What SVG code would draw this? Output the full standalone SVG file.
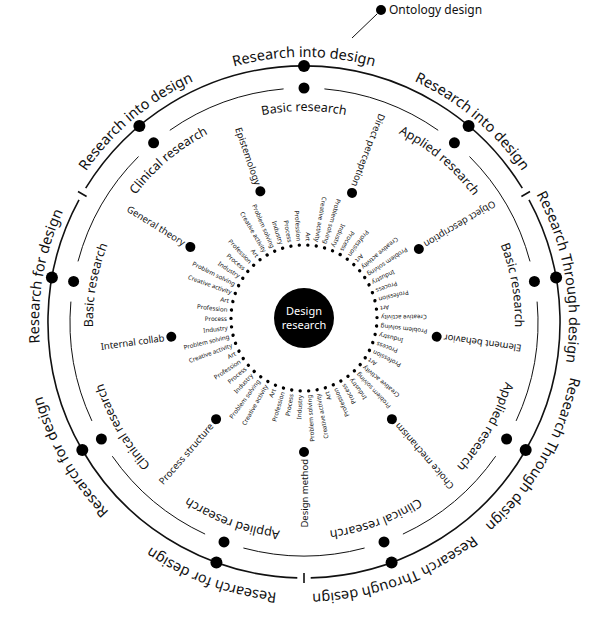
<svg xmlns="http://www.w3.org/2000/svg" width="600" height="644" viewBox="0 0 600 644">
<style>
text{font-family:"Noto Sans","Open Sans","Liberation Sans",sans-serif;fill:#111}
.ring{fill:none;stroke:#111}
.o{font-size:14.5px}
.i{font-size:12.5px}
.sl text{font-size:6.2px;text-anchor:end;dominant-baseline:central}
.ml text{font-size:9.5px;text-anchor:end;dominant-baseline:central}
</style>
<defs>
<path id="pOT" d="M304,587 A265,265 0 1 1 304,57 A265,265 0 1 1 304,587"/>
<path id="pOB" d="M304,50 A272,272 0 1 1 304,594 A272,272 0 1 1 304,50"/>
<path id="pIT" d="M304,533 A211,211 0 1 1 304,111 A211,211 0 1 1 304,533"/>
<path id="pIB" d="M304,112 A210,210 0 1 1 304,532 A210,210 0 1 1 304,112"/>
</defs>
<rect width="600" height="644" fill="#fff"/>
<g id="connectors">
<g class="ring" stroke-width="1.6">
<path d="M522.3,188.2 A256,256 0 0 0 85.7,188.2"/>
<path d="M79.0,199.8 A256,256 0 0 0 297.3,577.9"/>
<path d="M310.7,577.9 A256,256 0 0 0 529.0,199.8"/>
<path d="M521.4,196.5 L530.0,191.5 M86.6,196.5 L78.0,191.5 M304,573 L304,583"/>
</g>
<g class="ring" stroke-width="1">
<path d="M530.0,261.4 A234,234 0 0 0 469.5,156.5"/>
<path d="M438.2,130.3 A234,234 0 0 0 324.4,88.9"/>
<path d="M283.6,88.9 A234,234 0 0 0 169.8,130.3"/>
<path d="M138.5,156.5 A234,234 0 0 0 78.0,261.4"/>
<path d="M70.9,301.6 A234,234 0 0 0 91.9,420.9"/>
<path d="M112.3,456.2 A234,234 0 0 0 205.1,534.1"/>
<path d="M243.4,548.0 A234,234 0 0 0 364.6,548.0"/>
<path d="M402.9,534.1 A234,234 0 0 0 495.7,456.2"/>
<path d="M516.1,420.9 A234,234 0 0 0 537.1,301.6"/>
</g>
<line x1="352" y1="38" x2="377" y2="14" stroke="#111" stroke-width="1"/>
</g>
<g id="center"><circle cx="304" cy="318" r="30" fill="#000"/>
<text x="304" y="315" text-anchor="middle" font-size="11" style="fill:#fff">Design</text>
<text x="304" y="329" text-anchor="middle" font-size="11" style="fill:#fff">research</text></g>
<g id="ontology"><circle cx="381" cy="10" r="5"/><text x="389" y="14" font-size="12">Ontology design</text></g>
<g id="outer-nodes">
<circle cx="304" cy="66" r="6"/><circle cx="468.6" cy="125.9" r="6"/><circle cx="139.4" cy="125.9" r="6"/>
<circle cx="556.1" cy="277.6" r="6"/><circle cx="51.9" cy="277.6" r="6"/><circle cx="525.7" cy="450" r="6"/>
<circle cx="82.3" cy="450" r="6"/><circle cx="391.6" cy="562.6" r="6"/><circle cx="216.4" cy="562.6" r="6"/>
<text class="o" text-anchor="middle"><textPath href="#pOT" startOffset="50%">Research into design</textPath></text>
<text class="o" text-anchor="middle"><textPath href="#pOT" startOffset="38.89%">Research into design</textPath></text>
<text class="o" text-anchor="middle"><textPath href="#pOT" startOffset="61.11%">Research into design</textPath></text>
<text class="o" text-anchor="middle"><textPath href="#pOT" startOffset="27.78%">Research for design</textPath></text>
<text class="o" text-anchor="middle"><textPath href="#pOT" startOffset="72.22%">Research Through design</textPath></text>
<text class="o" text-anchor="middle"><textPath href="#pOB" startOffset="33.33%">Research Through design</textPath></text>
<text class="o" text-anchor="middle"><textPath href="#pOB" startOffset="44.44%">Research Through design</textPath></text>
<text class="o" text-anchor="middle"><textPath href="#pOB" startOffset="55.56%">Research for design</textPath></text>
<text class="o" text-anchor="middle"><textPath href="#pOB" startOffset="66.67%">Research for design</textPath></text>
</g>
<g id="inner-nodes">
<circle cx="304" cy="88" r="5.5"/><circle cx="454.4" cy="142.8" r="5.5"/><circle cx="153.6" cy="142.8" r="5.5"/>
<circle cx="534.4" cy="281.4" r="5.5"/><circle cx="73.6" cy="281.4" r="5.5"/><circle cx="506.6" cy="439" r="5.5"/>
<circle cx="101.4" cy="439" r="5.5"/><circle cx="384" cy="541.9" r="5.5"/><circle cx="224" cy="541.9" r="5.5"/>
<text class="i" text-anchor="middle"><textPath href="#pIT" startOffset="50%">Basic research</textPath></text>
<text class="i" text-anchor="middle"><textPath href="#pIT" startOffset="38.89%">Clinical research</textPath></text>
<text class="i" text-anchor="middle"><textPath href="#pIT" startOffset="61.11%">Applied research</textPath></text>
<text class="i" text-anchor="middle"><textPath href="#pIT" startOffset="27.78%">Basic research</textPath></text>
<text class="i" text-anchor="middle"><textPath href="#pIT" startOffset="72.22%">Basic research</textPath></text>
<text class="i" text-anchor="middle"><textPath href="#pIB" startOffset="33.33%">Applied research</textPath></text>
<text class="i" text-anchor="middle"><textPath href="#pIB" startOffset="44.44%">Clinical research</textPath></text>
<text class="i" text-anchor="middle"><textPath href="#pIB" startOffset="55.56%">Applied research</textPath></text>
<text class="i" text-anchor="middle"><textPath href="#pIB" startOffset="66.67%">Clinical research</textPath></text>
</g>
<g id="mid-nodes" class="ml">
<g transform="rotate(-109 304 318)"><circle cx="438" cy="318" r="5"/><text transform="translate(445 318) rotate(180)">Epistemology</text></g>
<g transform="rotate(-69 304 318)"><circle cx="438" cy="318" r="5"/><text transform="translate(445 318) rotate(180)">Direct perception</text></g>
<g transform="rotate(-148 304 318)"><circle cx="438" cy="318" r="5"/><text transform="translate(445 318) rotate(180)">General theory</text></g>
<g transform="rotate(-31 304 318)"><circle cx="438" cy="318" r="5"/><text transform="translate(445 318) rotate(180)">Object description</text></g>
<g transform="rotate(-188 304 318)"><circle cx="438" cy="318" r="5"/><text transform="translate(445 318) rotate(180)">Internal collab</text></g>
<g transform="rotate(8 304 318)"><circle cx="438" cy="318" r="5"/><text transform="translate(445 318) rotate(180)">Element behavior</text></g>
<g transform="rotate(-229 304 318)"><circle cx="438" cy="318" r="5"/><text transform="translate(445 318) rotate(180)">Process structure</text></g>
<g transform="rotate(49 304 318)"><circle cx="438" cy="318" r="5"/><text transform="translate(445 318) rotate(180)">Choice mechanism</text></g>
<g transform="rotate(90 304 318)"><circle cx="438" cy="318" r="5"/><text transform="translate(445 318) rotate(180)">Design method</text></g>
</g>
<g id="small-nodes" class="sl">
<g transform="rotate(-87 304 318)"><circle cx="377" cy="318" r="1.7"/><text transform="translate(381 318) rotate(180)">Art</text></g>
<g transform="rotate(-80.33 304 318)"><circle cx="377" cy="318" r="1.7"/><text transform="translate(381 318) rotate(180)">Creative activity</text></g>
<g transform="rotate(-73.67 304 318)"><circle cx="377" cy="318" r="1.7"/><text transform="translate(381 318) rotate(180)">Problem solving</text></g>
<g transform="rotate(-67 304 318)"><circle cx="377" cy="318" r="1.7"/><text transform="translate(381 318) rotate(180)">Industry</text></g>
<g transform="rotate(-60.33 304 318)"><circle cx="377" cy="318" r="1.7"/><text transform="translate(381 318) rotate(180)">Process</text></g>
<g transform="rotate(-53.67 304 318)"><circle cx="377" cy="318" r="1.7"/><text transform="translate(381 318) rotate(180)">Profession</text></g>
<g transform="rotate(-47 304 318)"><circle cx="377" cy="318" r="1.7"/><text transform="translate(381 318) rotate(180)">Art</text></g>
<g transform="rotate(-40.33 304 318)"><circle cx="377" cy="318" r="1.7"/><text transform="translate(381 318) rotate(180)">Creative activity</text></g>
<g transform="rotate(-33.67 304 318)"><circle cx="377" cy="318" r="1.7"/><text transform="translate(381 318) rotate(180)">Problem solving</text></g>
<g transform="rotate(-27 304 318)"><circle cx="377" cy="318" r="1.7"/><text transform="translate(381 318) rotate(180)">Industry</text></g>
<g transform="rotate(-20.33 304 318)"><circle cx="377" cy="318" r="1.7"/><text transform="translate(381 318) rotate(180)">Process</text></g>
<g transform="rotate(-13.67 304 318)"><circle cx="377" cy="318" r="1.7"/><text transform="translate(381 318) rotate(180)">Profession</text></g>
<g transform="rotate(-7 304 318)"><circle cx="377" cy="318" r="1.7"/><text transform="translate(381 318) rotate(180)">Art</text></g>
<g transform="rotate(-0.33 304 318)"><circle cx="377" cy="318" r="1.7"/><text transform="translate(381 318) rotate(180)">Creative activity</text></g>
<g transform="rotate(6.33 304 318)"><circle cx="377" cy="318" r="1.7"/><text transform="translate(381 318) rotate(180)">Problem solving</text></g>
<g transform="rotate(13 304 318)"><circle cx="377" cy="318" r="1.7"/><text transform="translate(381 318) rotate(180)">Industry</text></g>
<g transform="rotate(19.67 304 318)"><circle cx="377" cy="318" r="1.7"/><text transform="translate(381 318) rotate(180)">Process</text></g>
<g transform="rotate(26.33 304 318)"><circle cx="377" cy="318" r="1.7"/><text transform="translate(381 318) rotate(180)">Profession</text></g>
<g transform="rotate(33 304 318)"><circle cx="377" cy="318" r="1.7"/><text transform="translate(381 318) rotate(180)">Art</text></g>
<g transform="rotate(39.67 304 318)"><circle cx="377" cy="318" r="1.7"/><text transform="translate(381 318) rotate(180)">Creative activity</text></g>
<g transform="rotate(46.33 304 318)"><circle cx="377" cy="318" r="1.7"/><text transform="translate(381 318) rotate(180)">Problem solving</text></g>
<g transform="rotate(53 304 318)"><circle cx="377" cy="318" r="1.7"/><text transform="translate(381 318) rotate(180)">Industry</text></g>
<g transform="rotate(59.67 304 318)"><circle cx="377" cy="318" r="1.7"/><text transform="translate(381 318) rotate(180)">Process</text></g>
<g transform="rotate(66.33 304 318)"><circle cx="377" cy="318" r="1.7"/><text transform="translate(381 318) rotate(180)">Profession</text></g>
<g transform="rotate(73 304 318)"><circle cx="377" cy="318" r="1.7"/><text transform="translate(381 318) rotate(180)">Art</text></g>
<g transform="rotate(79.67 304 318)"><circle cx="377" cy="318" r="1.7"/><text transform="translate(381 318) rotate(180)">Creative activity</text></g>
<g transform="rotate(86.33 304 318)"><circle cx="377" cy="318" r="1.7"/><text transform="translate(381 318) rotate(180)">Problem solving</text></g>
<g transform="rotate(93 304 318)"><circle cx="377" cy="318" r="1.7"/><text transform="translate(381 318) rotate(180)">Industry</text></g>
<g transform="rotate(99.67 304 318)"><circle cx="377" cy="318" r="1.7"/><text transform="translate(381 318) rotate(180)">Process</text></g>
<g transform="rotate(106.33 304 318)"><circle cx="377" cy="318" r="1.7"/><text transform="translate(381 318) rotate(180)">Profession</text></g>
<g transform="rotate(113 304 318)"><circle cx="377" cy="318" r="1.7"/><text transform="translate(381 318) rotate(180)">Art</text></g>
<g transform="rotate(119.67 304 318)"><circle cx="377" cy="318" r="1.7"/><text transform="translate(381 318) rotate(180)">Creative activity</text></g>
<g transform="rotate(126.33 304 318)"><circle cx="377" cy="318" r="1.7"/><text transform="translate(381 318) rotate(180)">Problem solving</text></g>
<g transform="rotate(133 304 318)"><circle cx="377" cy="318" r="1.7"/><text transform="translate(381 318) rotate(180)">Industry</text></g>
<g transform="rotate(139.67 304 318)"><circle cx="377" cy="318" r="1.7"/><text transform="translate(381 318) rotate(180)">Process</text></g>
<g transform="rotate(146.33 304 318)"><circle cx="377" cy="318" r="1.7"/><text transform="translate(381 318) rotate(180)">Profession</text></g>
<g transform="rotate(153 304 318)"><circle cx="377" cy="318" r="1.7"/><text transform="translate(381 318) rotate(180)">Art</text></g>
<g transform="rotate(159.67 304 318)"><circle cx="377" cy="318" r="1.7"/><text transform="translate(381 318) rotate(180)">Creative activity</text></g>
<g transform="rotate(166.33 304 318)"><circle cx="377" cy="318" r="1.7"/><text transform="translate(381 318) rotate(180)">Problem solving</text></g>
<g transform="rotate(173 304 318)"><circle cx="377" cy="318" r="1.7"/><text transform="translate(381 318) rotate(180)">Industry</text></g>
<g transform="rotate(179.67 304 318)"><circle cx="377" cy="318" r="1.7"/><text transform="translate(381 318) rotate(180)">Process</text></g>
<g transform="rotate(186.33 304 318)"><circle cx="377" cy="318" r="1.7"/><text transform="translate(381 318) rotate(180)">Profession</text></g>
<g transform="rotate(193 304 318)"><circle cx="377" cy="318" r="1.7"/><text transform="translate(381 318) rotate(180)">Art</text></g>
<g transform="rotate(199.67 304 318)"><circle cx="377" cy="318" r="1.7"/><text transform="translate(381 318) rotate(180)">Creative activity</text></g>
<g transform="rotate(206.33 304 318)"><circle cx="377" cy="318" r="1.7"/><text transform="translate(381 318) rotate(180)">Problem solving</text></g>
<g transform="rotate(213 304 318)"><circle cx="377" cy="318" r="1.7"/><text transform="translate(381 318) rotate(180)">Industry</text></g>
<g transform="rotate(219.67 304 318)"><circle cx="377" cy="318" r="1.7"/><text transform="translate(381 318) rotate(180)">Process</text></g>
<g transform="rotate(226.33 304 318)"><circle cx="377" cy="318" r="1.7"/><text transform="translate(381 318) rotate(180)">Profession</text></g>
<g transform="rotate(233 304 318)"><circle cx="377" cy="318" r="1.7"/><text transform="translate(381 318) rotate(180)">Art</text></g>
<g transform="rotate(239.67 304 318)"><circle cx="377" cy="318" r="1.7"/><text transform="translate(381 318) rotate(180)">Creative activity</text></g>
<g transform="rotate(246.33 304 318)"><circle cx="377" cy="318" r="1.7"/><text transform="translate(381 318) rotate(180)">Problem solving</text></g>
<g transform="rotate(253 304 318)"><circle cx="377" cy="318" r="1.7"/><text transform="translate(381 318) rotate(180)">Industry</text></g>
<g transform="rotate(259.67 304 318)"><circle cx="377" cy="318" r="1.7"/><text transform="translate(381 318) rotate(180)">Process</text></g>
<g transform="rotate(266.33 304 318)"><circle cx="377" cy="318" r="1.7"/><text transform="translate(381 318) rotate(180)">Profession</text></g>
</g>
</svg>
